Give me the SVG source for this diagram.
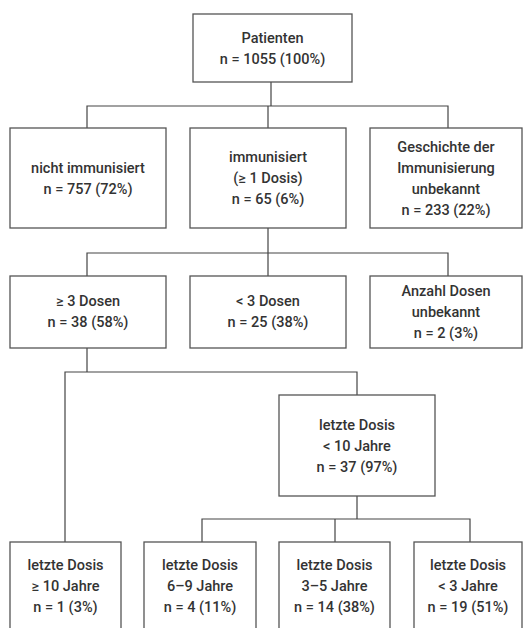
<svg xmlns="http://www.w3.org/2000/svg" width="530" height="628" viewBox="0 0 530 628">
<style>
.box{fill:#fff;stroke:#555;stroke-width:1.3}
.ln{fill:none;stroke:#444;stroke-width:1.2}
text{font-family:Roboto,"Liberation Sans",sans-serif;font-weight:500;font-size:14.5px;fill:#333;text-anchor:middle}
</style>
<rect width="530" height="628" fill="#fff"/>
<g id="connectors">
<path class="ln" d="M271 82V106M87 128V106H448V128M268 106V128"/>
<path class="ln" d="M268 228V253M87 276V253H448V276M268 253V276"/>
<path class="ln" d="M87 348V372M65 542V372H357V395"/>
<path class="ln" d="M357 496V519M202 542V519H470V542M335 519V542"/>
</g>
<g id="n_patienten"><rect class="box" x="193" y="14" width="159" height="68"/><text x="272.5" y="42.5">Patienten</text><text x="272.5" y="63.5">n = 1055 (100%)</text></g>
<g id="n_nicht"><rect class="box" x="10" y="128" width="156" height="100"/><text x="88" y="173">nicht immunisiert</text><text x="88" y="194">n = 757 (72%)</text></g>
<g id="n_immun"><rect class="box" x="190" y="128" width="156" height="100"/><text x="268" y="162">immunisiert</text><text x="268" y="183">(≥ 1 Dosis)</text><text x="268" y="204">n = 65 (6%)</text></g>
<g id="n_unbekannt"><rect class="box" x="370" y="128" width="152" height="100"/><text x="446" y="151.5">Geschichte der</text><text x="446" y="172.5">Immunisierung</text><text x="446" y="193.5">unbekannt</text><text x="446" y="214.5">n = 233 (22%)</text></g>
<g id="n_ge3"><rect class="box" x="10" y="276" width="156" height="72"/><text x="88" y="306">≥ 3 Dosen</text><text x="88" y="327">n = 38 (58%)</text></g>
<g id="n_lt3"><rect class="box" x="190" y="276" width="156" height="72"/><text x="268" y="306">&lt; 3 Dosen</text><text x="268" y="327">n = 25 (38%)</text></g>
<g id="n_anzahl"><rect class="box" x="370" y="276" width="152" height="72"/><text x="446" y="295.5">Anzahl Dosen</text><text x="446" y="316.5">unbekannt</text><text x="446" y="337.5">n = 2 (3%)</text></g>
<g id="n_lt10"><rect class="box" x="279" y="395" width="156" height="101"/><text x="357" y="429.5">letzte Dosis</text><text x="357" y="450.5">&lt; 10 Jahre</text><text x="357" y="471.5">n = 37 (97%)</text></g>
<g id="n_ge10"><rect class="box" x="10" y="542" width="111" height="100"/><text x="65.5" y="570">letzte Dosis</text><text x="65.5" y="591">≥ 10 Jahre</text><text x="65.5" y="612">n = 1 (3%)</text></g>
<g id="n_69"><rect class="box" x="144" y="542" width="112" height="100"/><text x="200" y="570">letzte Dosis</text><text x="200" y="591">6–9 Jahre</text><text x="200" y="612">n = 4 (11%)</text></g>
<g id="n_35"><rect class="box" x="279" y="542" width="111" height="100"/><text x="334.5" y="570">letzte Dosis</text><text x="334.5" y="591">3–5 Jahre</text><text x="334.5" y="612">n = 14 (38%)</text></g>
<g id="n_lt3j"><rect class="box" x="414" y="542" width="108" height="100"/><text x="468" y="570">letzte Dosis</text><text x="468" y="591">&lt; 3 Jahre</text><text x="468" y="612">n = 19 (51%)</text></g>
</svg>
